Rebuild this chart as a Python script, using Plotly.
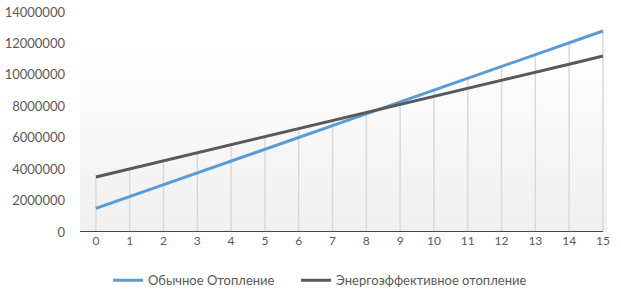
import plotly.graph_objects as go

years = list(range(16))
conventional = [1500000, 2250000, 3000000, 3760000, 4510000, 5260000, 6010000, 6770000,
                7520000, 8270000, 9030000, 9780000, 10530000, 11280000, 12040000, 12790000]
efficient = [3500000, 4010000, 4530000, 5040000, 5550000, 6060000, 6580000, 7090000,
             7600000, 8120000, 8630000, 9140000, 9660000, 10170000, 10680000, 11200000]
series_names = ["Обычное Отопление", "Энергоэффективное отопление"]
y_ticks = [0, 2000000, 4000000, 6000000, 8000000, 10000000, 12000000, 14000000]

font = "Lato, 'Open Sans', sans-serif"
fig = go.Figure()

# drop lines from highest point to axis
dx, dy = [], []
for x, a, b in zip(years, conventional, efficient):
    dx += [x, x, None]
    dy += [0, max(a, b), None]
fig.add_trace(go.Scatter(x=dx, y=dy, mode="lines", line=dict(color="#d9d9d9", width=1.5),
                         showlegend=False, hoverinfo="skip"))

fig.add_trace(go.Scatter(x=years, y=conventional, mode="lines", name=series_names[0],
                         line=dict(color="#5b9bd5", width=3), legend="legend"))
fig.add_trace(go.Scatter(x=years, y=efficient, mode="lines", name=series_names[1],
                         line=dict(color="#595959", width=3), legend="legend2"))

# gradient background of plot area
shapes = []
n = 24
top = 11800000
for i in range(n):
    y0 = top * i / n
    y1 = top * (i + 1) / n
    t = i / (n - 1)
    c = int(240 + (255 - 240) * t)
    shapes.append(dict(type="rect", xref="paper", yref="y", x0=0, x1=1, y0=y0, y1=y1,
                       fillcolor=f"rgb({c},{c},{c})", line=dict(width=0), layer="below"))
shapes.append(dict(type="line", xref="x", yref="y", x0=-0.47, x1=15, y0=0, y1=0,
                   line=dict(color="#2e4d6e", width=2), layer="above"))

legend_common = dict(orientation="h", xanchor="left", y=-0.22, yanchor="middle",
                     font=dict(size=13, color="#595959"), itemwidth=30)

fig.update_layout(
    width=621, height=299,
    margin=dict(l=80, r=14, t=12, b=67, autoexpand=False),
    paper_bgcolor="white", plot_bgcolor="white",
    font=dict(family=font, size=13, color="#595959"),
    shapes=shapes,
    legend=dict(x=0.0531, **legend_common),
    legend2=dict(x=0.41, **legend_common),
    xaxis=dict(range=[-0.47, 15.12], tickmode="array", tickvals=years,
               ticktext=[str(v) for v in years], showgrid=False, zeroline=False,
               showline=False, ticks="", tickfont=dict(size=12), automargin=False),
    yaxis=dict(range=[0, 14000000], tickmode="array", tickvals=y_ticks,
               ticktext=[str(v) for v in y_ticks], showgrid=False, zeroline=False,
               showline=False, ticks="", ticklabelstandoff=14, tickfont=dict(size=13),
               automargin=False),
)

fig.write_html("out.html", config={"displayModeBar": False},
               post_script="document.body.style.margin='0';")
